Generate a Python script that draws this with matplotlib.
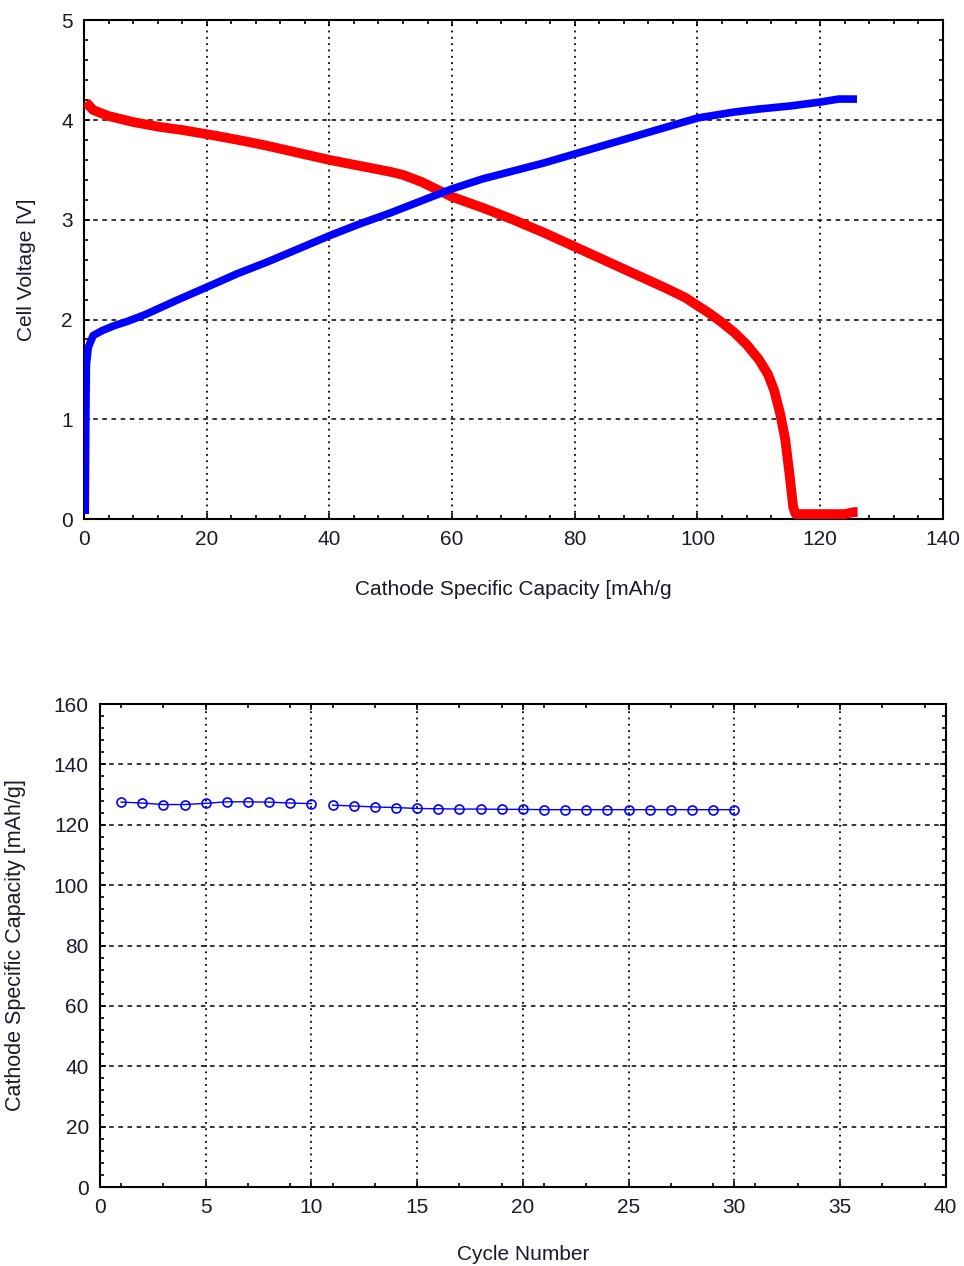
import numpy as np
import matplotlib
matplotlib.use("Agg")
import matplotlib.pyplot as plt
from matplotlib.ticker import MultipleLocator, FixedLocator

plt.rcParams['font.family'] = ['Liberation Sans', 'DejaVu Sans']

# --- charge / discharge curves ---
dis_cap = [0.3, 1.5, 4, 8, 12.4, 16, 21.7, 26, 30, 35, 40, 45, 50, 52, 55, 57,
           60, 65, 70, 75, 80, 85, 90, 95, 98, 100, 102, 104, 106, 108, 110,
           111.5, 112.5, 113.5, 114.3, 115, 115.6, 116, 117, 120, 124, 125.5,
           126.1]
dis_v = [4.18, 4.10, 4.04, 3.98, 3.93, 3.90, 3.84, 3.79, 3.74, 3.67, 3.60,
         3.54, 3.48, 3.45, 3.38, 3.32, 3.23, 3.12, 3.00, 2.87, 2.73, 2.59,
         2.45, 2.31, 2.22, 2.14, 2.06, 1.97, 1.87, 1.75, 1.60, 1.45, 1.29,
         1.05, 0.80, 0.45, 0.12, 0.05, 0.05, 0.05, 0.05, 0.07, 0.07]

chg_cap = [0.2, 0.25, 0.3, 0.4, 0.7, 1.5, 3, 5, 7, 10, 15, 21.7, 25, 30, 35,
           40, 45, 50, 55, 60, 65, 70, 75, 80, 85, 90, 95, 100, 103, 106, 110,
           115, 120, 123, 124, 126]
chg_v = [0.05, 0.5, 1.0, 1.55, 1.72, 1.84, 1.89, 1.94, 1.98, 2.05, 2.19, 2.37,
         2.46, 2.58, 2.71, 2.84, 2.96, 3.07, 3.19, 3.31, 3.41, 3.49, 3.57,
         3.66, 3.75, 3.84, 3.93, 4.02, 4.05, 4.08, 4.11, 4.14, 4.18, 4.21,
         4.21, 4.21]

# --- capacity vs cycle ---
cycles_a = [1, 2, 3, 4, 5, 6, 7, 8, 9, 10]
cap_a = [127.5, 127.2, 126.7, 126.7, 127.1, 127.6, 127.6, 127.5, 127.2, 127.0]
cycles_b = list(range(11, 31))
cap_b = [126.5, 126.2, 125.9, 125.7, 125.4, 125.3, 125.2, 125.2, 125.1, 125.1,
         125.0, 125.0, 125.0, 125.0, 125.0, 125.0, 125.0, 125.0, 125.0, 125.0]

fig = plt.figure(figsize=(9.64, 12.66), dpi=100)
ax1 = fig.add_axes([0.0871, 0.590, 0.891, 0.394])
ax2 = fig.add_axes([0.1037, 0.0624, 0.8773, 0.3815])


def style(ax):
    for s in ax.spines.values():
        s.set_linewidth(1.5)
    ax.tick_params(which='both', direction='in', top=True, right=True,
                   labelsize=15, pad=8, labelcolor='#1a1a2a')
    ax.tick_params(which='major', length=4, width=1.2)
    ax.tick_params(which='minor', length=3, width=1.2)
    ax.yaxis.grid(True, color='black', linestyle=(0, (3, 3)), linewidth=1.1)
    ax.xaxis.grid(True, color='black', linestyle=(0, (1, 2.5)), linewidth=1.3)
    ax.set_axisbelow(True)


# top panel
ax1.plot(dis_cap, dis_v, color='#ff0000', linewidth=7, solid_capstyle='butt',
         solid_joinstyle='round', zorder=3)
ax1.plot(chg_cap, chg_v, color='#0000ff', linewidth=5.5, solid_capstyle='butt',
         solid_joinstyle='round', zorder=4)
ax1.set_xlim(0, 140)
ax1.set_ylim(0, 5)
ax1.xaxis.set_major_locator(MultipleLocator(20))
ax1.xaxis.set_minor_locator(MultipleLocator(4))
ax1.yaxis.set_major_locator(MultipleLocator(1))
ax1.yaxis.set_minor_locator(MultipleLocator(0.2))
style(ax1)
ax1.set_xlabel("Cathode Specific Capacity [mAh/g", fontsize=15, labelpad=22,
               color='#1a1a2a')
ax1.set_ylabel("Cell Voltage [V]", fontsize=15, labelpad=18, color='#1a1a2a')

# bottom panel
for cx, cy in [(cycles_a, cap_a), (cycles_b, cap_b)]:
    ax2.plot(cx, cy, color='#0000ff', linewidth=1, marker='o', markersize=6.5,
             markerfacecolor='none', markeredgecolor='#0000ff',
             markeredgewidth=1.2, zorder=3)
ax2.set_xlim(0, 40)
ax2.set_ylim(0, 160)
ax2.xaxis.set_major_locator(MultipleLocator(5))
ax2.xaxis.set_minor_locator(FixedLocator(np.arange(1, 40, 2)))
ax2.yaxis.set_major_locator(MultipleLocator(20))
ax2.yaxis.set_minor_locator(MultipleLocator(4))
style(ax2)
ax2.set_xlabel("Cycle Number", fontsize=15, labelpad=20, color='#1a1a2a')
ax2.set_ylabel("Cathode Specific Capacity [mAh/g]", fontsize=15.5,
               labelpad=20, color='#1a1a2a')

fig.savefig("out.png", dpi=100)
